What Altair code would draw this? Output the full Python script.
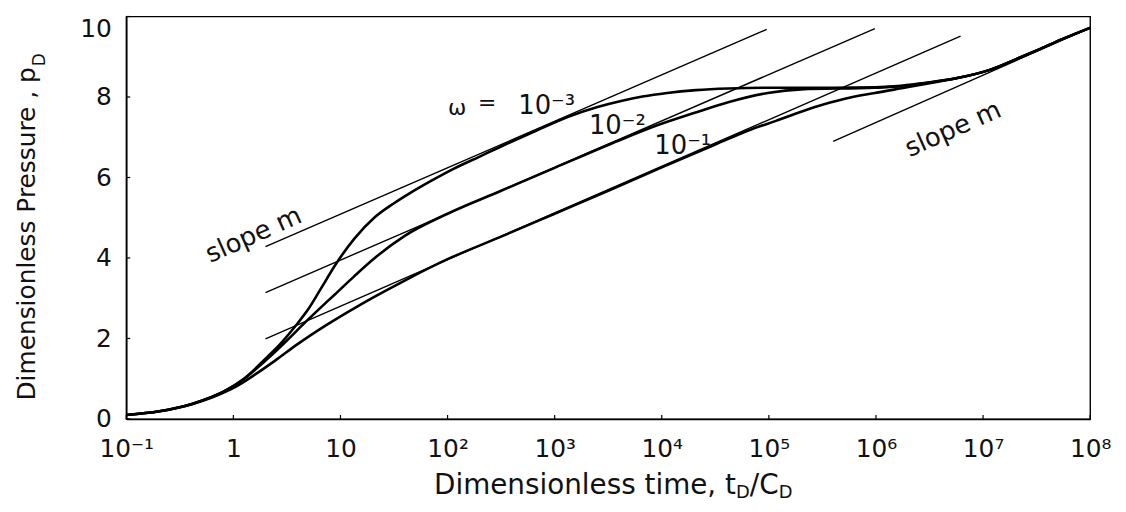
import altair as alt
import pandas as pd

# ---------------- data (x = log10 tD/CD, y = pD) ----------------
w3_logt = [-1.0, -0.69, -0.38, -0.07, 0.10, 0.30, 0.45, 0.58, 0.70, 0.82, 0.95, 1.13, 1.32, 1.50, 1.63,
           1.85, 2.06, 2.30, 2.50, 2.80, 3.14, 3.40, 3.62, 3.82, 4.05, 4.32, 4.62, 5.06, 5.60, 5.99,
           6.20, 6.45, 6.76, 7.07, 7.30, 7.53, 7.75, 8.00]
w3_pd = [0.10, 0.19, 0.38, 0.71, 1.00, 1.50, 1.90, 2.31, 2.73, 3.25, 3.82, 4.48, 5.01, 5.36, 5.58,
         5.92, 6.22, 6.52, 6.77, 7.13, 7.52, 7.75, 7.90, 8.01, 8.10, 8.17, 8.21, 8.23, 8.23, 8.24,
         8.27, 8.35, 8.47, 8.68, 8.93, 9.19, 9.45, 9.72]

w2_logt = [-1.0, -0.69, -0.38, -0.07, 0.10, 0.30, 0.50, 0.67, 0.82, 0.95, 1.13, 1.32, 1.60, 2.00,
           2.50, 3.00, 3.60, 3.92, 4.30, 4.62, 4.99, 5.30, 5.99, 6.20, 6.45, 6.76, 7.07, 7.30, 7.53,
           7.75, 8.00]
w2_pd = [0.10, 0.19, 0.38, 0.71, 1.00, 1.45, 1.95, 2.40, 2.78, 3.10, 3.55, 4.00, 4.55, 5.10,
         5.67, 6.24, 6.92, 7.26, 7.60, 7.87, 8.10, 8.19, 8.23, 8.26, 8.34, 8.47, 8.68, 8.93, 9.19,
         9.45, 9.72]

w1_logt = [-1.0, -0.69, -0.38, -0.07, 0.02, 0.20, 0.39, 0.60, 0.86, 1.16, 1.32, 1.60, 2.00, 2.50,
           3.00, 3.50, 4.00, 4.50, 4.84, 5.06, 5.43, 5.70, 5.99, 6.29, 6.54, 6.76, 7.07, 7.30, 7.53,
           7.75, 8.00]
w1_pd = [0.10, 0.19, 0.37, 0.68, 0.80, 1.10, 1.45, 1.86, 2.32, 2.80, 3.04, 3.44, 3.97, 4.53,
         5.10, 5.67, 6.25, 6.82, 7.20, 7.40, 7.75, 7.95, 8.10, 8.24, 8.36, 8.47, 8.68, 8.93, 9.19,
         9.45, 9.72]

# straight "slope m" lines
seg_logt_start = [0.30, 0.30, 0.30, 5.60]
seg_pd_start = [4.28, 3.14, 1.99, 6.90]
seg_logt_end = [4.98, 5.99, 6.79, 8.00]
seg_pd_end = [9.68, 9.70, 9.51, 9.72]

# annotations
sym_text = ["ω", "="]
sym_logt = [2.09, 2.37]
sym_pd = [7.72, 7.84]
num_text = ["10⁻³", "10⁻²", "10⁻¹"]
num_logt = [2.66, 3.32, 3.93]
num_pd = [7.59, 7.08, 6.59]
slope_text = ["slope m", "slope m"]
slope_logt = [0.19, 6.72]
slope_pd = [4.57, 7.20]

x_tick_exp = [-1, 0, 1, 2, 3, 4, 5, 6, 7, 8]
x_tick_labels = ["10⁻¹", "1", "10", "10²", "10³", "10⁴", "10⁵", "10⁶", "10⁷", "10⁸"]
y_ticks = [0, 2, 4, 6, 8, 10]

# ---------------- tables ----------------
rows = []
for name, xs, ys in [("w3", w3_logt, w3_pd), ("w2", w2_logt, w2_pd), ("w1", w1_logt, w1_pd)]:
    for i, (lx, p) in enumerate(zip(xs, ys)):
        rows.append({"series": name, "i": i, "t": 10 ** lx, "pd": p})
curves = pd.DataFrame(rows)

segs = pd.DataFrame({
    "t1": [10 ** v for v in seg_logt_start], "p1": seg_pd_start,
    "t2": [10 ** v for v in seg_logt_end], "p2": seg_pd_end,
})
sym_df = pd.DataFrame({"t": [10 ** v for v in sym_logt], "pd": sym_pd, "txt": sym_text})
num_df = pd.DataFrame({"t": [10 ** v for v in num_logt], "pd": num_pd, "txt": num_text})
slope_df = pd.DataFrame({"t": [10 ** v for v in slope_logt], "pd": slope_pd, "txt": slope_text})
xt_df = pd.DataFrame({"t": [10.0 ** e for e in x_tick_exp]})
yt_df = pd.DataFrame({"pd": y_ticks})

W, H = 970, 405
FONT = "DejaVu Sans"
INK = "#111111"

xscale = alt.Scale(type="log", domain=[0.1, 1e8], nice=False)
yscale = alt.Scale(domain=[0, 10], nice=False)

label_array = "[" + ",".join("'" + s + "'" for s in x_tick_labels) + "]"

xaxis = alt.Axis(values=[10.0 ** e for e in x_tick_exp],
                 labelExpr=label_array + "[round(log(datum.value)/LN10)+1]",
                 title=None, ticks=False, grid=False, labelFont=FONT, labelFontSize=25,
                 labelColor=INK, labelPadding=18, domainColor="black", domainWidth=1.6,
                 labelFlush=False, labelOverlap=False)
yaxis = alt.Axis(values=y_ticks, title=None, ticks=False, grid=False, labelFont=FONT,
                 labelFontSize=25, labelColor=INK, labelPadding=15, domainColor="black",
                 domainWidth=1.6, labelFlush=False, labelOverlap=False,
                 labelBaseline={"condition": {"test": "datum.value == 10", "value": "top"},
                                "value": "middle"})

X = alt.X("t:Q", scale=xscale, axis=xaxis)
Y = alt.Y("pd:Q", scale=yscale, axis=yaxis)

curve_layer = alt.Chart(curves).mark_line(color="black", strokeWidth=2.6,
                                          interpolate="monotone").encode(
    x=X, y=Y, detail="series:N", order="i:Q",
)

seg_layer = alt.Chart(segs).mark_rule(color="black", strokeWidth=1.4).encode(
    x=alt.X("t1:Q", scale=xscale, axis=xaxis), x2="t2:Q",
    y=alt.Y("p1:Q", scale=yscale, axis=yaxis), y2="p2:Q",
)

sym_layer = alt.Chart(sym_df).mark_text(font=FONT, fontSize=22, color=INK, align="center",
                                        baseline="middle").encode(x=X, y=Y, text="txt:N")

num_layer = alt.Chart(num_df).mark_text(font=FONT, fontSize=26, color=INK, align="left",
                                        baseline="alphabetic").encode(x=X, y=Y, text="txt:N")

slope_layer = alt.Chart(slope_df).mark_text(font=FONT, fontSize=26, color=INK, align="center",
                                            baseline="middle", angle=336).encode(
    x=X, y=Y, text="txt:N")

xtick_layer = alt.Chart(xt_df).mark_rule(color="black", strokeWidth=1.2).encode(
    x=X, y=alt.value(H), y2=alt.value(H - 4))
ytick_layer = alt.Chart(yt_df).mark_rule(color="black", strokeWidth=1.2).encode(
    y=Y, x=alt.value(0), x2=alt.value(4))

one = pd.DataFrame({"k": [0]})


def label(txt, px, py, size, align, angle=0):
    kw = dict(font=FONT, fontSize=size, color=INK, align=align, baseline="alphabetic")
    if angle:
        kw["angle"] = angle
    return alt.Chart(one).mark_text(**kw).encode(
        x=alt.value(px), y=alt.value(py), text=alt.value(txt))


# axis titles with subscripts (text pieces)
titles = [
    label("Dimensionless time, t", 309.7, 480, 28, "left"),
    label("D", 613.7, 485, 18, "left"),
    label("/C", 627.5, 480, 28, "left"),
    label("D", 656.5, 485, 18, "left"),
    label("Dimensionless Pressure , p", -92, 51, 25, "right", 270),
    label("D", -82, 50, 17, "left", 270),
]

chart = alt.layer(curve_layer, seg_layer, sym_layer, num_layer, slope_layer,
                  xtick_layer, ytick_layer, *titles).properties(
    width=W, height=H,
    autosize=alt.AutoSizeParams(type="none"),
    padding={"left": 119, "top": 7, "right": 28, "bottom": 84},
    background="white",
).configure_view(stroke="black", strokeWidth=1.4)

chart.save("out.html", embed_options={"renderer": "svg", "actions": False})
